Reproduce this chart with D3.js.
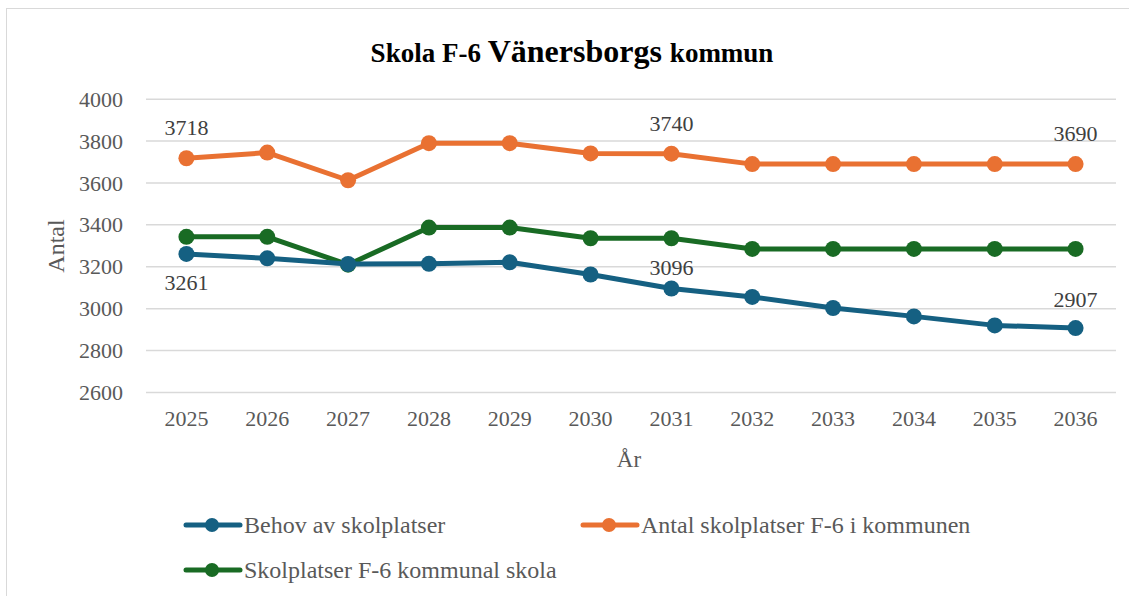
<!DOCTYPE html>
<html>
<head>
<meta charset="utf-8">
<script src="https://cdn.jsdelivr.net/npm/d3@7"></script>
<style>
  body { margin: 0; background: #fff; }
  svg { display: block; }
  svg text { font-family: 'Liberation Serif', 'Times New Roman', serif !important; }
</style>
</head>
<body>
<svg id="chart" width="1129" height="596"></svg>
<script>
const years = ['2025', '2026', '2027', '2028', '2029', '2030', '2031', '2032', '2033', '2034', '2035', '2036']
const behov = [3261, 3240, 3213, 3214, 3221, 3163, 3096, 3056, 3003, 2963, 2920, 2907]
const antalSkolplatser = [3718, 3745, 3613, 3790, 3790, 3741, 3740, 3690, 3690, 3690, 3690, 3690]
const kommunalSkola = [3343, 3343, 3210, 3387, 3387, 3336, 3336, 3285, 3285, 3285, 3285, 3285]
const yTicks = [2600, 2800, 3000, 3200, 3400, 3600, 3800, 4000]

// value labels: [index, vertical offset from the point]
const series = [
  { name: 'Antal skolplatser F-6 i kommunen', values: antalSkolplatser, color: '#E97132',
    labels: [[0, -23], [6, -23], [11, -23]] },
  { name: 'Skolplatser F-6 kommunal skola', values: kommunalSkola, color: '#196B24', labels: [] },
  { name: 'Behov av skolplatser', values: behov, color: '#156082',
    labels: [[0, 36], [6, -14], [11, -21]] }
]

const legendItems = [
  { name: 'Behov av skolplatser', color: '#156082', x: 186, y: 525 },
  { name: 'Antal skolplatser F-6 i kommunen', color: '#E97132', x: 583, y: 525 },
  { name: 'Skolplatser F-6 kommunal skola', color: '#196B24', x: 186, y: 570 }
]

const svg = d3.select('#chart')

// outer frame
svg.append('rect')
  .attr('x', 6.5).attr('y', 8.5)
  .attr('width', 1140).attr('height', 600)
  .attr('fill', 'none').attr('stroke', '#d9d9d9').attr('stroke-width', 1)

const x = d3.scaleBand().domain(years).range([146, 1116])
const y = d3.scaleLinear().domain([2600, 4000]).range([392.4, 99.2])

// grid
svg.append('g')
  .selectAll('line')
  .data(yTicks)
  .enter()
  .append('line')
  .attr('x1', 146).attr('x2', 1116)
  .attr('y1', d => y(d)).attr('y2', d => y(d))
  .attr('stroke', '#d9d9d9').attr('stroke-width', 1.5)

// y axis
const yAxis = svg.append('g')
  .attr('transform', 'translate(146,0)')
  .call(d3.axisLeft(y).tickValues(yTicks).tickFormat(d3.format('d')).tickSize(0).tickPadding(23))
yAxis.select('.domain').remove()
yAxis.selectAll('text')
  .attr('font-size', 22).attr('fill', '#595959')

// x axis
const xAxis = svg.append('g')
  .attr('transform', 'translate(0,406)')
  .call(d3.axisBottom(x).tickSize(0).tickPadding(4))
xAxis.select('.domain').remove()
xAxis.selectAll('text')
  .attr('font-size', 22).attr('fill', '#595959')

// axis titles
svg.append('text')
  .attr('transform', 'translate(64,246) rotate(-90)')
  .attr('text-anchor', 'middle')
  .attr('font-size', 24).attr('fill', '#595959')
  .text('Antal')

svg.append('text')
  .attr('x', 629).attr('y', 467)
  .attr('text-anchor', 'middle')
  .attr('font-size', 23).attr('fill', '#595959')
  .text('År')

// title
const title = svg.append('text')
  .attr('x', 572).attr('y', 62)
  .attr('text-anchor', 'middle')
  .attr('font-weight', 'bold').attr('fill', '#000')
title.append('tspan').attr('font-size', 27).text('Skola F-6 ')
title.append('tspan').attr('font-size', 32).text('Vänersborgs ')
title.append('tspan').attr('font-size', 27).text('kommun')

// lines
const lineGen = d3.line()
  .x((d, i) => x(years[i]) + x.bandwidth() / 2)
  .y(d => y(d))

series.forEach(s => {
  const g = svg.append('g')
  g.append('path')
    .datum(s.values)
    .attr('d', lineGen)
    .attr('fill', 'none')
    .attr('stroke', s.color)
    .attr('stroke-width', 5)
    .attr('stroke-linejoin', 'round')

  g.selectAll('circle')
    .data(s.values)
    .enter()
    .append('circle')
    .attr('cx', (d, i) => x(years[i]) + x.bandwidth() / 2)
    .attr('cy', d => y(d))
    .attr('r', 8)
    .attr('fill', s.color)

  g.selectAll('text.val')
    .data(s.labels)
    .enter()
    .append('text')
    .attr('class', 'val')
    .attr('x', d => x(years[d[0]]) + x.bandwidth() / 2)
    .attr('y', d => y(s.values[d[0]]) + d[1])
    .attr('text-anchor', 'middle')
    .attr('font-size', 22).attr('fill', '#404040')
    .text(d => s.values[d[0]])
})

// legend
const legend = svg.append('g')
  .selectAll('g')
  .data(legendItems)
  .enter()
  .append('g')
  .attr('transform', d => `translate(${d.x},${d.y})`)

legend.append('line')
  .attr('x1', 0).attr('x2', 54)
  .attr('y1', 0).attr('y2', 0)
  .attr('stroke', d => d.color).attr('stroke-width', 5)
  .attr('stroke-linecap', 'round')
legend.append('circle')
  .attr('cx', 26).attr('cy', 0).attr('r', 7)
  .attr('fill', d => d.color)
legend.append('text')
  .attr('x', 58).attr('y', 8)
  .attr('font-size', 24).attr('fill', '#595959')
  .text(d => d.name)
</script>
</body>
</html>
